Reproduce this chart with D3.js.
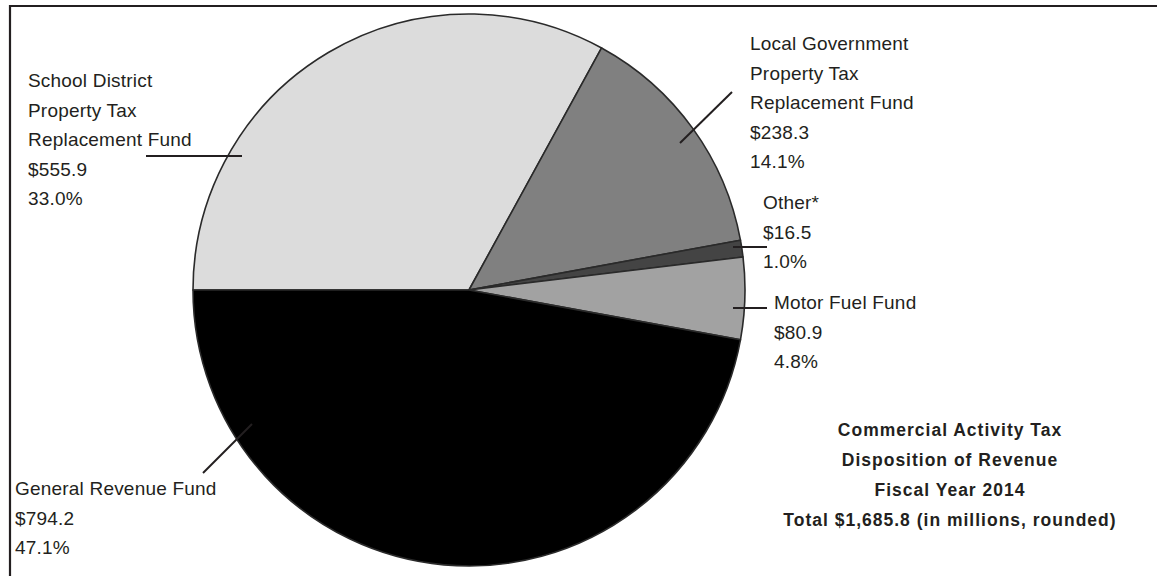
<!DOCTYPE html>
<html>
<head>
<meta charset="utf-8">
<script src="https://cdn.jsdelivr.net/npm/d3@7"></script>
<style>
  body { margin: 0; background: #fff; }
  svg { display: block; }
  .lbl { font-family: "Liberation Sans", Arial, sans-serif; font-size: 19px; letter-spacing: 0.2px; fill: #231f20; }
  .ttl { font-family: "Liberation Sans", Arial, sans-serif; font-size: 17.5px; font-weight: bold; letter-spacing: 1px; fill: #231f20; }
</style>
</head>
<body>
<div id="chart"></div>
<script>
/*******************

  CAT disposition pie

 *******************/

// data
const funds = ["School District Property Tax Replacement Fund",
               "Local Government Property Tax Replacement Fund",
               "Other*",
               "Motor Fuel Fund",
               "General Revenue Fund"];
const amounts = [555.9, 238.3, 16.5, 80.9, 794.2];
const shares = ["33.0%", "14.1%", "1.0%", "4.8%", "47.1%"];
const labelLines = [
  ["School District", "Property Tax", "Replacement Fund"],
  ["Local Government", "Property Tax", "Replacement Fund"],
  ["Other*"],
  ["Motor Fuel Fund"],
  ["General Revenue Fund"]
];
const titleLines = ["Commercial Activity Tax", "Disposition of Revenue",
                    "Fiscal Year 2014", "Total $1,685.8 (in millions, rounded)"];

const width = 1157, height = 576;
const cx = 469, cy = 290, radius = 276;
const lineH = 29.5;

// where each label sits + its leader line
const layout = [
  { x: 28,  y: 87,  leader: [[146, 156], [242, 156]] },
  { x: 750, y: 50,  leader: [[732, 92], [680, 143]] },
  { x: 763, y: 209, leader: [[733, 247], [767, 247]] },
  { x: 774, y: 309, leader: [[733, 308], [767, 308]] },
  { x: 15,  y: 495, leader: [[252, 424], [203, 473]] }
];

const color = d3.scaleOrdinal()
  .domain(funds)
  .range(["#dcdcdc", "#808080", "#444444", "#a2a2a2", "#000000"]);

const data = funds.map((f, i) => ({ fund: f, amount: amounts[i], share: shares[i], lines: labelLines[i] }));

const svg = d3.select("#chart")
  .append("svg")
  .attr("width", width)
  .attr("height", height);

// frame (top + left only, rest is cropped off)
svg.append("path")
  .attr("d", `M10,${height} L10,6 L${width},6`)
  .attr("fill", "none")
  .attr("stroke", "#231f20")
  .attr("stroke-width", 2.2);

const pie = d3.pie()
  .sort(null)
  .value(d => d.amount)
  .startAngle(-Math.PI / 2)
  .endAngle(3 * Math.PI / 2);

const arc = d3.arc()
  .innerRadius(0)
  .outerRadius(radius);

const g = svg.append("g")
  .attr("transform", `translate(${cx},${cy})`);

g.selectAll(".slice")
  .data(pie(data))
  .enter()
  .append("path")
    .attr("class", "slice")
    .attr("d", arc)
    .attr("fill", d => color(d.data.fund))
    .attr("stroke", "#2a2a2a")
    .attr("stroke-width", 1.6)
    .attr("stroke-linejoin", "round");

// leader lines
svg.selectAll(".leader")
  .data(data)
  .enter()
  .append("line")
    .attr("class", "leader")
    .attr("x1", (d, i) => layout[i].leader[0][0])
    .attr("y1", (d, i) => layout[i].leader[0][1])
    .attr("x2", (d, i) => layout[i].leader[1][0])
    .attr("y2", (d, i) => layout[i].leader[1][1])
    .attr("stroke", "#231f20")
    .attr("stroke-width", 2);

// labels: name lines, then amount, then share
const labels = svg.selectAll(".lbl")
  .data(data)
  .enter()
  .append("text")
    .attr("class", "lbl")
    .attr("x", (d, i) => layout[i].x)
    .attr("y", (d, i) => layout[i].y);

labels.each(function(d, i) {
  const rows = d.lines.concat(["$" + d3.format(".1f")(d.amount), d.share]);
  d3.select(this).selectAll("tspan")
    .data(rows)
    .enter()
    .append("tspan")
      .attr("x", layout[i].x)
      .attr("dy", (r, j) => j === 0 ? 0 : lineH)
      .text(r => r);
});

// title block
svg.append("text")
  .attr("class", "ttl")
  .attr("text-anchor", "middle")
  .attr("y", 436)
  .selectAll("tspan")
  .data(titleLines)
  .enter()
  .append("tspan")
    .attr("x", 950)
    .attr("dy", (t, j) => j === 0 ? 0 : 30)
    .text(t => t);
</script>
</body>
</html>
